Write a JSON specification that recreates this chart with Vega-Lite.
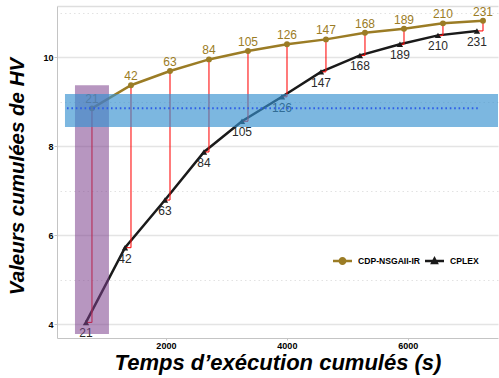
{
  "$schema": "https://vega.github.io/schema/vega-lite/v6.json",
  "width": 441,
  "height": 332,
  "autosize": "none",
  "padding": {"left": 57, "top": 6, "right": 1, "bottom": 40},
  "background": "white",
  "config": {"view": {"stroke": null}, "font": "Liberation Sans"},
  "data": {
    "values": [
      {"k": 21, "xg": 778, "yg": 8.85, "xc": 679, "yc": 4.04},
      {"k": 42, "xg": 1423, "yg": 9.37, "xc": 1324, "yc": 5.72},
      {"k": 63, "xg": 2068, "yg": 9.69, "xc": 1985, "yc": 6.79},
      {"k": 84, "xg": 2712, "yg": 9.95, "xc": 2630, "yc": 7.87},
      {"k": 105, "xg": 3357, "yg": 10.14, "xc": 3258, "yc": 8.56},
      {"k": 126, "xg": 4002, "yg": 10.29, "xc": 3919, "yc": 9.11},
      {"k": 147, "xg": 4646, "yg": 10.4, "xc": 4564, "yc": 9.67},
      {"k": 168, "xg": 5291, "yg": 10.55, "xc": 5208, "yc": 10.04},
      {"k": 189, "xg": 5936, "yg": 10.64, "xc": 5869, "yc": 10.29},
      {"k": 210, "xg": 6580, "yg": 10.76, "xc": 6498, "yc": 10.49},
      {"k": 231, "xg": 7242, "yg": 10.82, "xc": 7142, "yc": 10.59}
    ]
  },
  "layer": [
    {
      "mark": {"type": "line", "color": "#1a1a1a", "strokeWidth": 2.5},
      "encoding": {
        "x": {
          "field": "xc", "type": "quantitative",
          "scale": {"domain": [200, 7490], "nice": false, "zero": false},
          "axis": {
            "orient": "bottom", "title": "Temps d’exécution cumulés (s)",
            "values": [2000, 4000, 6000], "format": "d", "grid": false,
            "domainColor": "#c4c4c4", "tickColor": "#c4c4c4", "tickSize": 2,
            "labelFont": "Liberation Sans", "labelFontWeight": "bold", "labelFontSize": 9,
            "labelColor": "black", "labelPadding": 1,
            "titleFont": "Liberation Sans", "titleFontSize": 22, "titleFontWeight": "bold",
            "titleFontStyle": "italic", "titleColor": "black", "titlePadding": 2
          }
        },
        "y": {
          "field": "yc", "type": "quantitative",
          "scale": {"domain": [3.69, 11.15], "nice": false, "zero": false},
          "axis": {
            "orient": "left", "title": "Valeurs cumulées de HV",
            "values": [4, 6, 8, 10], "grid": true, "gridColor": "#e4e4e4", "gridWidth": 1.3,
            "domainColor": "#c4c4c4", "tickColor": "#c4c4c4", "tickSize": 3,
            "labelFont": "Liberation Sans", "labelFontWeight": "bold", "labelFontSize": 9,
            "labelColor": "black", "labelPadding": 1,
            "titleFont": "Liberation Sans", "titleFontSize": 20.5, "titleFontWeight": "bold",
            "titleFontStyle": "italic", "titleColor": "black",
            "titleX": -40, "titleY": 170, "titleAngle": -90, "titleAlign": "center", "titleBaseline": "middle"
          }
        }
      }
    },
    {
      "mark": {"type": "line", "color": "#9b7c25", "strokeWidth": 2.5},
      "encoding": {
        "x": {
          "field": "xg", "type": "quantitative",
          "axis": {"orient": "top", "labels": false, "ticks": false, "domain": true,
                   "domainColor": "#dedede", "domainWidth": 1.3, "title": null, "grid": false}
        },
        "y": {
          "field": "yg", "type": "quantitative",
          "axis": {"orient": "right", "labels": false, "ticks": false, "domain": false, "title": null,
                   "values": [5, 7, 9, 11], "grid": true, "gridColor": "#e2e2e2", "gridDash": [1.5, 3], "gridWidth": 1}
        }
      }
    },
    {
      "mark": {"type": "rule", "color": "#ff1010", "strokeWidth": 1.1},
      "encoding": {
        "x": {"field": "xg", "type": "quantitative", "axis": null},
        "y": {"field": "yg", "type": "quantitative", "axis": null},
        "y2": {"field": "yc"}
      }
    },
    {
      "mark": {"type": "rule", "color": "#ff1010", "strokeWidth": 1.1},
      "encoding": {
        "x": {"field": "xc", "type": "quantitative", "axis": null},
        "x2": {"field": "xg"},
        "y": {"field": "yc", "type": "quantitative", "axis": null}
      }
    },
    {
      "mark": {"type": "point", "filled": true, "shape": "circle", "size": 35, "opacity": 1},
      "encoding": {
        "x": {"field": "xg", "type": "quantitative", "axis": null},
        "y": {"field": "yg", "type": "quantitative", "axis": null},
        "color": {
          "datum": "CDP-NSGAII-IR", "type": "nominal",
          "scale": {"domain": ["CDP-NSGAII-IR", "CPLEX"], "range": ["#9b7c25", "#1a1a1a"]},
          "legend": {
            "title": null, "orient": "none", "legendX": 276, "legendY": 245,
            "direction": "horizontal",
            "labelFont": "Liberation Sans", "labelFontSize": 8.6, "labelFontWeight": "bold",
            "labelColor": "black", "symbolSize": 361, "symbolStrokeWidth": 0,
            "columnPadding": 4, "labelOffset": 6, "padding": 0, "fillColor": "white",
            "symbolType": {"expr": "datum.value === 'CPLEX' ? 'M-1,-0.13H1V0.13H-1Z M0,-0.52L0.46,0.34H-0.46Z' : 'M-1,-0.13H1V0.13H-1Z M0.42,0A0.42,0.42 0 1,1 -0.42,0A0.42,0.42 0 1,1 0.42,0Z'"}
          }
        }
      }
    },
    {
      "mark": {"type": "point", "filled": true, "shape": "triangle-up", "size": 40, "opacity": 1},
      "encoding": {
        "x": {"field": "xc", "type": "quantitative", "axis": null},
        "y": {"field": "yc", "type": "quantitative", "axis": null},
        "color": {"datum": "CPLEX", "type": "nominal"}
      }
    },
    {
      "mark": {"type": "text", "dy": -9, "fontSize": 12, "color": "#9b7c25", "font": "Liberation Sans"},
      "encoding": {
        "x": {"field": "xg", "type": "quantitative", "axis": null},
        "y": {"field": "yg", "type": "quantitative", "axis": null},
        "text": {"field": "k", "type": "quantitative"}
      }
    },
    {
      "mark": {"type": "text", "dy": 11, "fontSize": 12, "color": "#2a2a2a", "font": "Liberation Sans"},
      "encoding": {
        "x": {"field": "xc", "type": "quantitative", "axis": null},
        "y": {"field": "yc", "type": "quantitative", "axis": null},
        "text": {"field": "k", "type": "quantitative"}
      }
    },
    {
      "data": {"values": [{"t0": 497, "t1": 1059, "v0": 3.78, "v1": 9.37}]},
      "mark": {"type": "rect", "color": "#7b3f8c", "opacity": 0.55},
      "encoding": {
        "x": {"field": "t0", "type": "quantitative", "axis": null},
        "x2": {"field": "t1"},
        "y": {"field": "v0", "type": "quantitative", "axis": null},
        "y2": {"field": "v1"}
      }
    },
    {
      "data": {"values": [{"t0": 332, "t1": 7490, "v0": 8.43, "v1": 9.17}]},
      "mark": {"type": "rect", "color": "#3690d0", "opacity": 0.65},
      "encoding": {
        "x": {"field": "t0", "type": "quantitative", "axis": null},
        "x2": {"field": "t1"},
        "y": {"field": "v0", "type": "quantitative", "axis": null},
        "y2": {"field": "v1"}
      }
    },
    {
      "data": {"values": [{"t0": 365, "t1": 7190, "v": 8.85}]},
      "mark": {"type": "rule", "color": "#2e5ee8", "strokeWidth": 2, "strokeDash": [1.6, 2.8]},
      "encoding": {
        "x": {"field": "t0", "type": "quantitative", "axis": null},
        "x2": {"field": "t1"},
        "y": {"field": "v", "type": "quantitative", "axis": null}
      }
    }
  ],
  "resolve": {"axis": {"x": "independent", "y": "independent"}}
}
